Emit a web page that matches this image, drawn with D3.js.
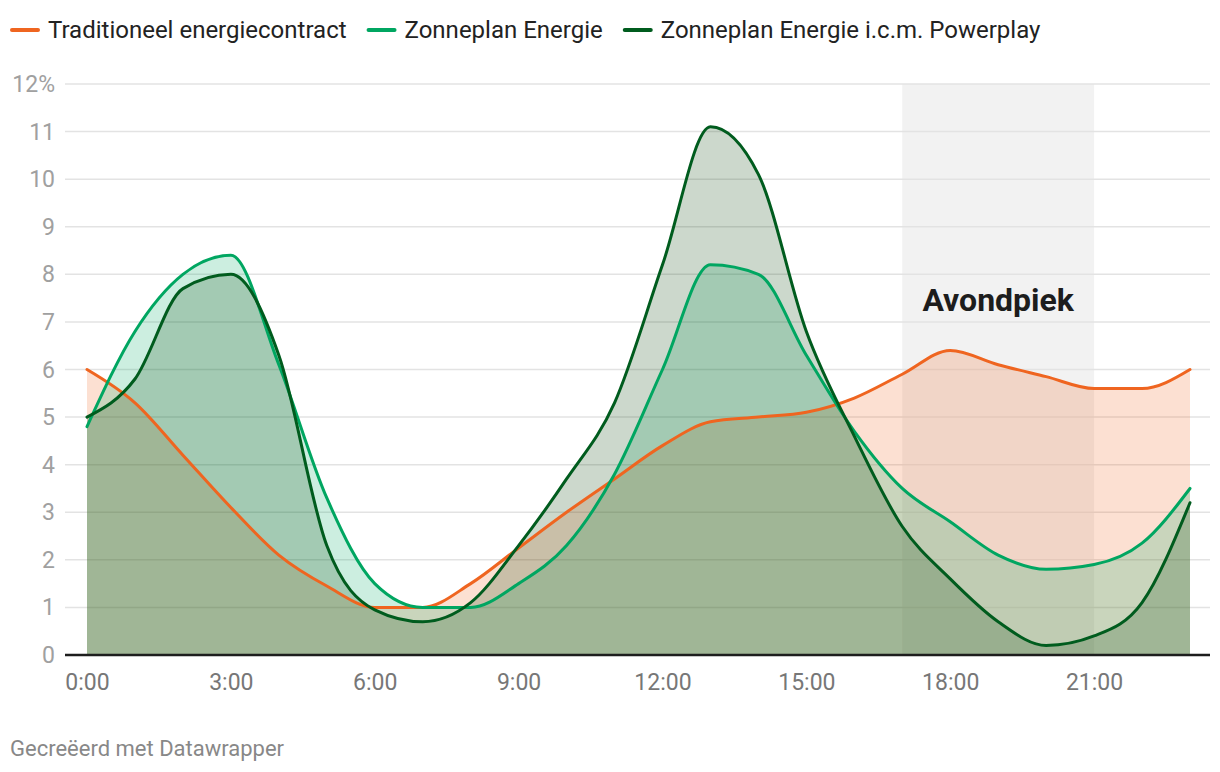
<!DOCTYPE html>
<html><head><meta charset="utf-8">
<script src="https://cdn.jsdelivr.net/npm/d3@7"></script>
<style>body{margin:0;background:#fff;font-family:Roboto,"Noto Sans",sans-serif;}</style>
</head><body><svg id="c" width="1220" height="772"></svg>
<script>
const hours = d3.range(0,24);
const xTickLabels = ["0:00","3:00","6:00","9:00","12:00","15:00","18:00","21:00"];
const xTickValues = [0,3,6,9,12,15,18,21];
const yTickValues = [0,1,2,3,4,5,6,7,8,9,10,11,12];
const traditioneel = [6.0,5.3,4.2,3.1,2.1,1.45,1.0,1.0,1.5,2.25,3.0,3.7,4.4,4.9,5.0,5.1,5.4,5.9,6.4,6.1,5.85,5.6,5.6,6.0];
const zonneplan = [4.8,6.8,8.0,8.4,6.1,3.3,1.5,1.0,1.0,1.5,2.3,3.8,6.0,8.2,8.0,6.3,4.7,3.5,2.8,2.1,1.8,1.9,2.35,3.5];
const powerplay = [5.0,5.8,7.7,8.0,6.3,2.3,0.95,0.7,1.1,2.3,3.7,5.3,8.2,11.1,10.1,6.8,4.6,2.7,1.6,0.7,0.2,0.4,1.1,3.2];
const seriesNames = ["Traditioneel energiecontract","Zonneplan Energie","Zonneplan Energie i.c.m. Powerplay"];
const highlight = {from:17, to:21, label:"Avondpiek"};

const lineColors = ["#ef6520","#00a661","#005c1e"];
const fillColors = ["#f2651f","#00a862","#003e00"];
const series = [traditioneel, zonneplan, powerplay];

const svg = d3.select("#c");
const x = d3.scaleLinear().domain([0,23]).range([87,1190]);
const y = d3.scaleLinear().domain([0,12]).range([655,84]);

svg.append("rect").attr("x",x(highlight.from)).attr("y",y(12))
  .attr("width",x(highlight.to)-x(highlight.from)).attr("height",y(0)-y(12))
  .attr("fill","#f2f2f2");

svg.append("g").selectAll("line").data(yTickValues.filter(d=>d>0)).join("line")
  .attr("x1",65).attr("x2",1210).attr("y1",d=>y(d)).attr("y2",d=>y(d))
  .attr("stroke","#e3e3e3").attr("stroke-width",1.5);

svg.append("g").selectAll("text").data(yTickValues).join("text")
  .attr("x",55).attr("y",d=>y(d)).attr("dy","0.35em").attr("text-anchor","end")
  .attr("font-size",23).attr("fill","#a0a0a0")
  .text(d=>d===12?"12%":d);

const curve = d3.curveMonotoneX;
const area = d3.area().x((d,i)=>x(i)).y0(y(0)).y1(d=>y(d)).curve(curve);
const line = d3.line().x((d,i)=>x(i)).y(d=>y(d)).curve(curve);

series.forEach((s,k)=>{
  svg.append("path").datum(s).attr("d",area).attr("fill",fillColors[k]).attr("fill-opacity",0.2);
});

svg.append("text").attr("x",(x(highlight.from)+x(highlight.to))/2).attr("y",300)
  .attr("dy","0.35em").attr("text-anchor","middle").attr("font-size",32).attr("font-weight","bold")
  .attr("fill","#1d1d1d").text(highlight.label);

series.forEach((s,k)=>{
  svg.append("path").datum(s).attr("d",line).attr("fill","none")
    .attr("stroke",lineColors[k]).attr("stroke-width",3).attr("stroke-linejoin","round").attr("stroke-linecap","round");
});

svg.append("line").attr("x1",65).attr("x2",1210).attr("y1",y(0)).attr("y2",y(0))
  .attr("stroke","#1d1d1d").attr("stroke-width",2.5);

const xAxis = d3.axisBottom(x).tickValues(xTickValues).tickFormat((d,i)=>xTickLabels[i]).tickSize(0).tickPadding(0);
const gx = svg.append("g").attr("transform",`translate(0,${y(0)})`).call(xAxis);
gx.select(".domain").remove();
gx.selectAll("text").attr("font-size",23).attr("fill","#777").attr("font-family","Roboto").attr("dy",0).attr("y",35);

let lx = 12;
const lg = svg.append("g");
seriesNames.forEach((n,k)=>{
  lg.append("line").attr("x1",lx).attr("x2",lx+26).attr("y1",30).attr("y2",30)
    .attr("stroke",lineColors[k]).attr("stroke-width",4).attr("stroke-linecap","round");
  const t = lg.append("text").attr("x",lx+36).attr("y",30).attr("dy","0.35em")
    .attr("font-size",24).attr("fill","#222").text(n);
  lx += 36 + t.node().getComputedTextLength() + 22;
});

svg.append("text").attr("x",10).attr("y",748).attr("dy","0.35em").attr("font-size",22)
  .attr("fill","#888").text("Gecreëerd met Datawrapper");
</script></body></html>
